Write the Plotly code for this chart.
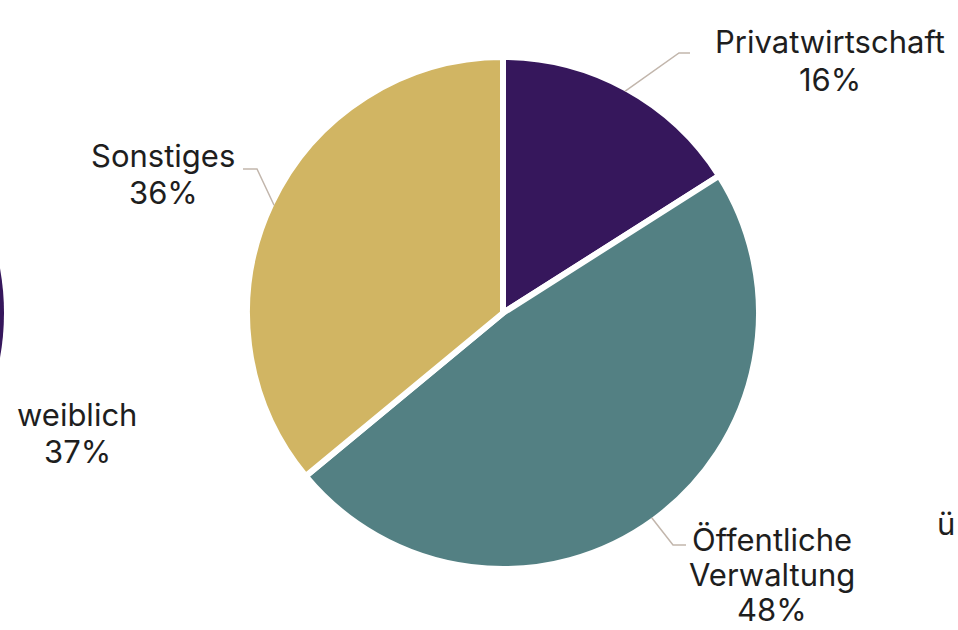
import math
import plotly.graph_objects as go

# Sector shares (percent)
sectors = ["Privatwirtschaft", "Öffentliche Verwaltung", "Sonstiges"]
label_lines = [["Privatwirtschaft"], ["Öffentliche", "Verwaltung"], ["Sonstiges"]]
shares = [16, 48, 36]
colors = ["#36175C", "#538083", "#D1B563"]

# Neighbouring chart fragments
left_label = "weiblich"
left_share = 37
right_label = "ü"

W, H = 958, 630
FONT = "Inter"
FS = 31
TEXT_COLOR = "#1E1E1E"
LEADER = "#C2B6AC"
LINE_GAP = 37

# Pie geometry in pixels
cx, cy, r_draw = 503, 313, 256
r_vis = 253


def px(x):
    return x / W


def py(y):
    return 1 - y / H


def text_block(lines, x, y_first, gap=LINE_GAP, xanchor="center"):
    """Stack single-line annotations with a fixed line pitch."""
    out = []
    for k, line in enumerate(lines):
        out.append(dict(
            text=line, x=px(x), y=py(y_first + k * gap),
            xref="paper", yref="paper", xanchor=xanchor, yanchor="middle",
            showarrow=False, align="center", borderpad=0,
            font=dict(family=FONT, size=FS, color=TEXT_COLOR)))
    return out


fig = go.Figure()
fig.add_trace(go.Pie(
    labels=sectors,
    values=shares,
    sort=False,
    direction="clockwise",
    rotation=0,
    marker=dict(colors=colors, line=dict(color="white", width=6)),
    textinfo="none",
    hoverinfo="skip",
    showlegend=False,
    domain=dict(x=[px(cx - r_draw), px(cx + r_draw)],
                y=[py(cy + r_draw), py(cy - r_draw)]),
))

# Leader lines start at each slice's mid-angle on the rim
elbows = {
    0: ((679, 53), (690, 53)),
    1: ((673, 545), (686, 545)),
    2: ((257, 169), (243, 169)),
}
# (centre x, centre y of first line, line pitch)
text_pos = {
    0: (830, 42, 37),
    1: (772, 539, 35),
    2: (163, 155, 37),
}

shapes = []
annotations = []
total = sum(shares)
cum = 0
for i, v in enumerate(shares):
    mid = (cum + v / 2) / total * 2 * math.pi
    cum += v
    sx = cx + r_vis * math.sin(mid)
    sy = cy - r_vis * math.cos(mid)
    (ex, ey), (hx, hy) = elbows[i]
    path = f"M {px(sx)} {py(sy)} L {px(ex)} {py(ey)} L {px(hx)} {py(hy)}"
    shapes.append(dict(type="path", path=path, xref="paper", yref="paper",
                       line=dict(color=LEADER, width=1.5)))
    tx, ty, gap = text_pos[i]
    annotations += text_block(label_lines[i] + [f"{v}%"], tx, ty, gap)

# Rim of the neighbouring pie on the left
shapes.append(dict(type="circle", xref="paper", yref="paper",
                   x0=px(4 - 2 * r_vis), x1=px(4),
                   y0=py(cy + r_vis), y1=py(cy - r_vis),
                   fillcolor="#36175C", line=dict(width=0), layer="below"))

annotations += text_block([left_label, f"{left_share}%"], 77, 414)
annotations += text_block([right_label], 936, 523, xanchor="left")

fig.update_layout(
    width=W, height=H,
    margin=dict(l=0, r=0, t=0, b=0),
    paper_bgcolor="white",
    plot_bgcolor="white",
    shapes=shapes,
    annotations=annotations,
)

fig.write_html("out.html")
